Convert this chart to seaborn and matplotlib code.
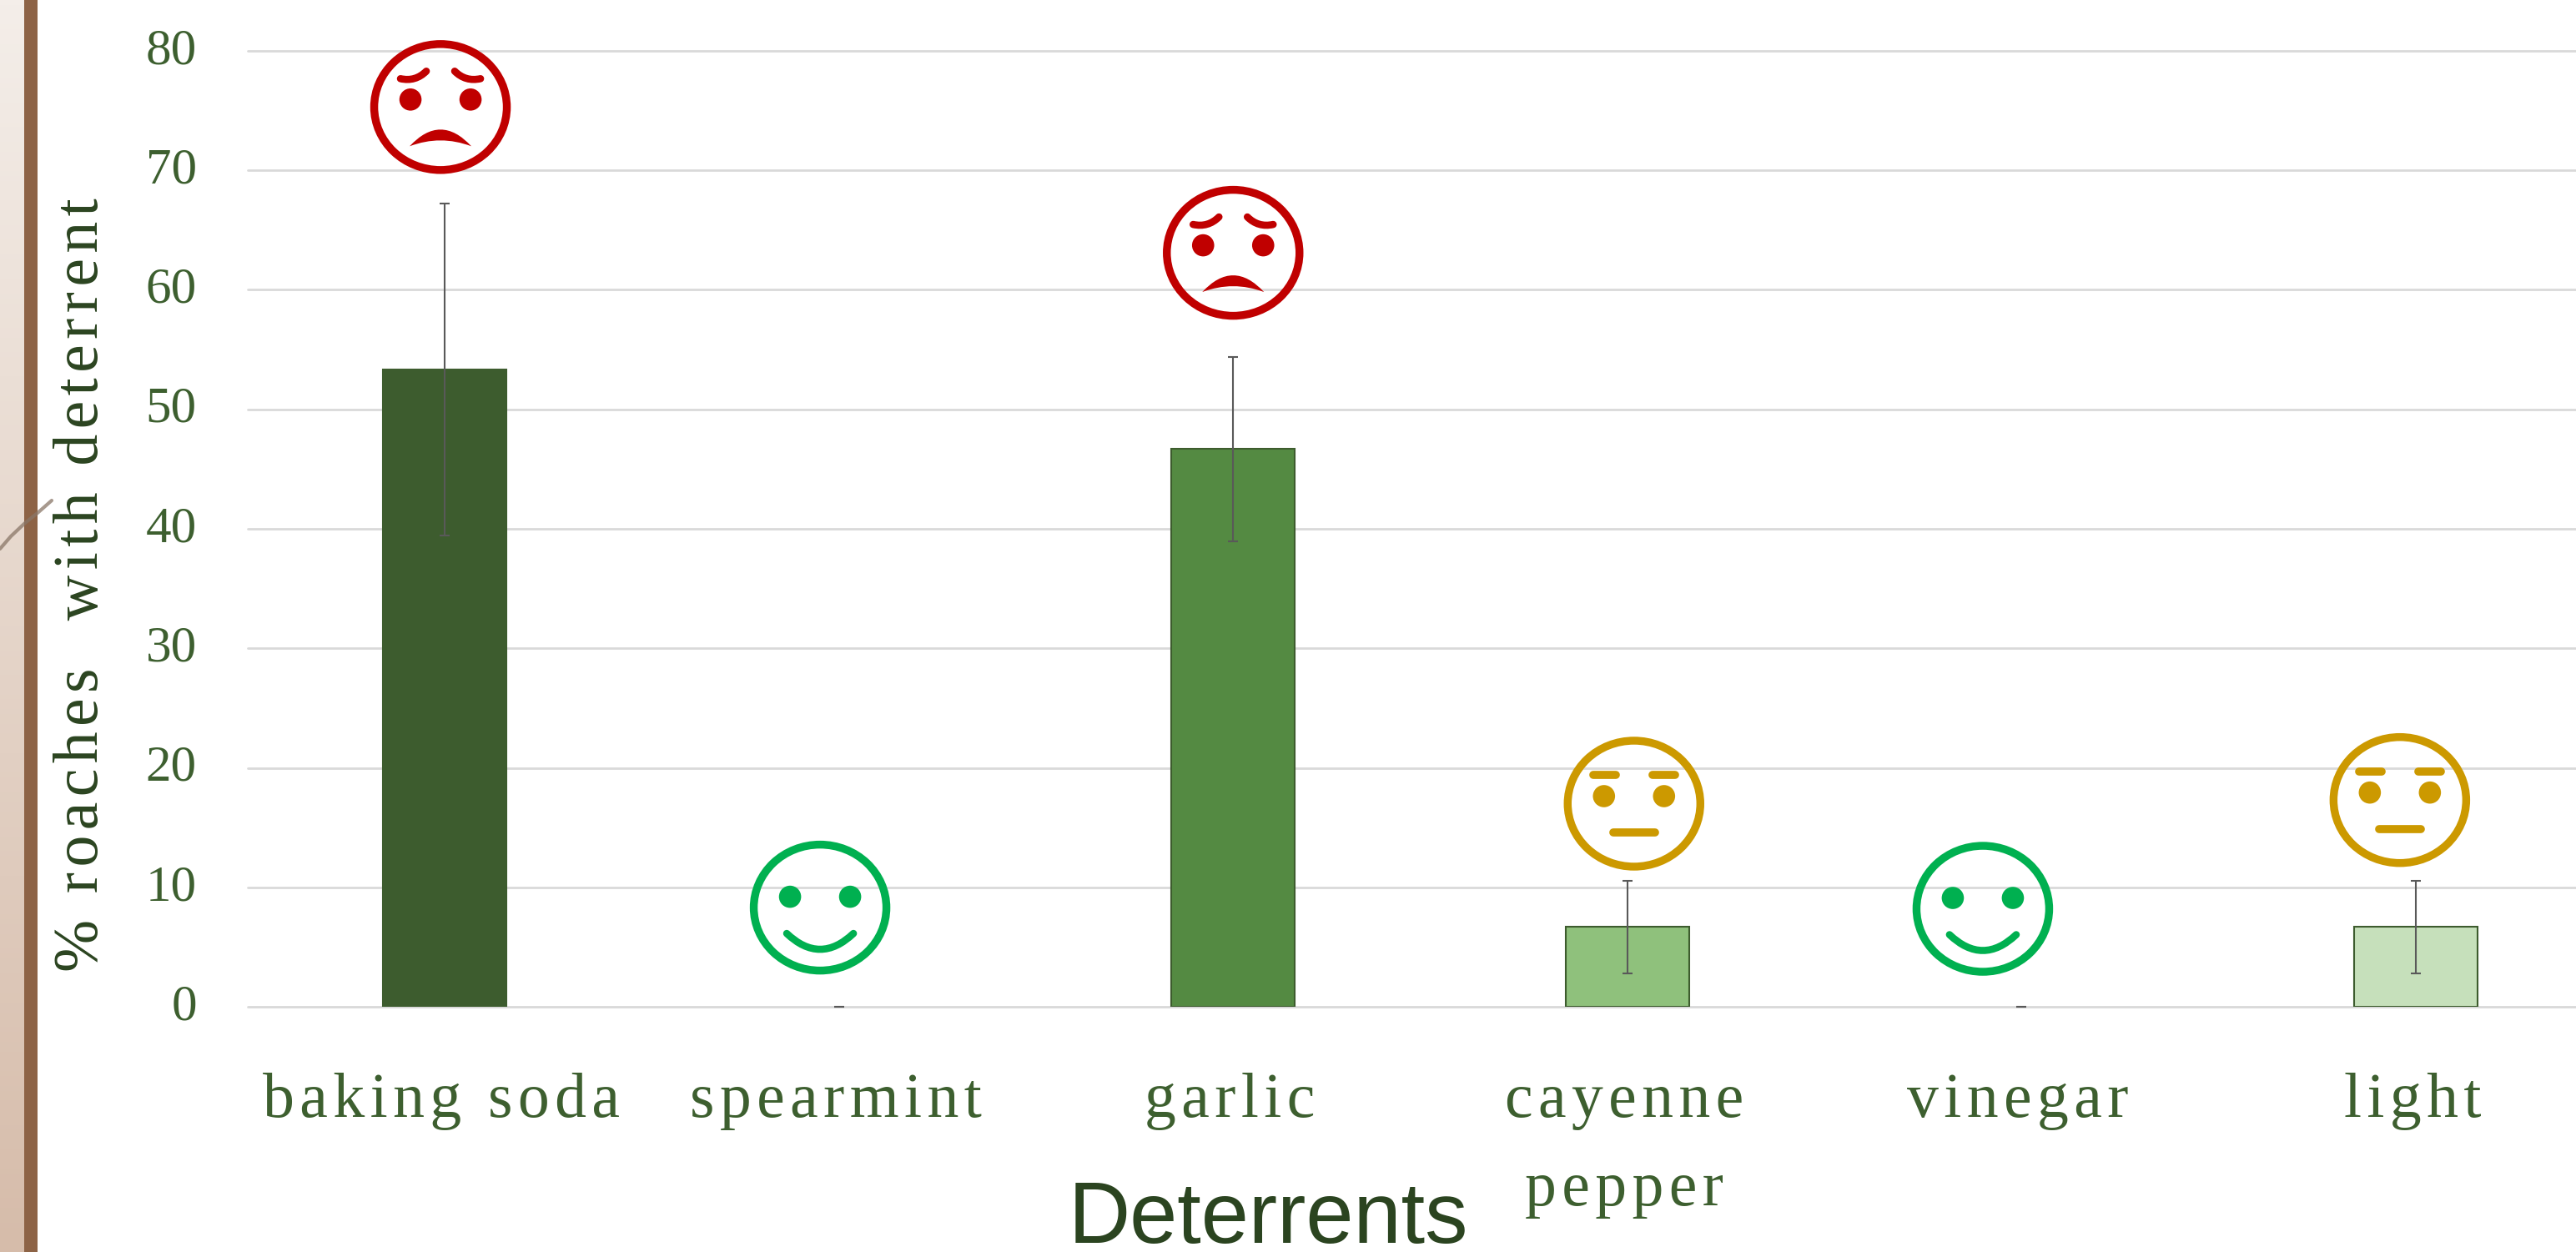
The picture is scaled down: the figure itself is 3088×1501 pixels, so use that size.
import numpy as np
import pandas as pd
import matplotlib
matplotlib.use('Agg')
import matplotlib.pyplot as plt
from matplotlib.lines import Line2D
from matplotlib.patches import Circle, Ellipse, PathPatch
from matplotlib.path import Path
from matplotlib.transforms import Affine2D
import seaborn as sns

deterrents = ['baking soda', 'spearmint', 'garlic', 'cayenne\npepper', 'vinegar', 'light']
percent = [53.33, 0, 46.67, 6.67, 0, 6.67]
errors = [13.9, 0, 7.7, 3.85, 0, 3.85]
y_ticks = [0, 10, 20, 30, 40, 50, 60, 70, 80]
bar_colors = ['#3d5c2e', '#3d5c2e', '#548a42', '#8fc17c', '#3d5c2e', '#c6e0bb']

# faces sit at these chart positions (category, percent)
face_kinds = ['sad', 'happy', 'sad', 'flat', 'happy', 'flat']
face_x = [-0.011, 0.952, 2.0, 3.017, 3.902, 4.96]
face_y = [75.3, 8.3, 63.1, 17.0, 8.2, 17.3]
face_colors = {'sad': '#c00000', 'happy': '#00b050', 'flat': '#cc9900'}

TICK_GREEN = '#3d5f2f'
DARK_GREEN = '#2b4420'
HAIR = '\u200a'


def spaced(text, sep=HAIR):
    # the source text is letterspaced, matplotlib has no setting for that
    return '\n'.join(sep.join(line) for line in text.split('\n'))


sns.set_theme(style='white')
plt.rcParams['font.family'] = ['Liberation Serif', 'DejaVu Serif']

df = pd.DataFrame({'deterrent': deterrents, 'percent': percent})

fig = plt.figure(figsize=(30.88, 15.01), dpi=100, facecolor='white')
ax = fig.add_axes([297 / 3088, 294 / 1501, 2835 / 3088, 1146 / 1501])

sns.barplot(data=df, x='deterrent', y='percent', hue='deterrent', palette=bar_colors, saturation=1,
            width=0.3125, dodge=False, legend=False, errorbar=None, ax=ax, zorder=3)
for patch in ax.patches:
    patch.set_edgecolor('#3d5c2e')
    patch.set_linewidth(1.5 if patch.get_height() > 0 else 0)

ax.errorbar(range(len(percent)), percent, yerr=errors, fmt='none', ecolor='#595959',
            elinewidth=1.5, capsize=4.5, capthick=1.5, zorder=4, clip_on=False)

ax.set_xlim(-0.5, 5.5)
ax.set_ylim(0, 80)
ax.set_yticks(y_ticks)
ax.set_yticklabels([str(v) for v in y_ticks], color=TICK_GREEN, fontsize=44)
ax.set_xticks(range(len(deterrents)))
ax.set_xticklabels([spaced(d) for d in deterrents], color=TICK_GREEN, fontsize=54.5, linespacing=1.7)
ax.tick_params(axis='y', length=0, pad=44)
ax.tick_params(axis='x', length=0, pad=57)
for label in ax.get_yticklabels():
    label.set_transform(label.get_transform() + Affine2D().translate(0, 6))
for label in ax.get_xticklabels():
    label.set_transform(label.get_transform() + Affine2D().translate(-4, 0))
ax.set_xlabel('')
ax.set_ylabel('')
ax.yaxis.grid(True, color='#d9d9d9', linewidth=2)
ax.set_axisbelow(True)
for line in ax.get_ygridlines():
    line.set_clip_on(False)
sns.despine(ax=ax, left=True, bottom=True, top=True, right=True)

fig.text(99 / 3088, 1 - 701 / 1501, spaced('% roaches  with deterrent'), rotation=90,
         ha='center', va='center', color=DARK_GREEN, fontsize=54.5)
fig.text(1520 / 3088, 1 - 1490 / 1501, 'Deterrents', ha='center', va='baseline',
         color=DARK_GREEN, fontsize=74, family='Liberation Sans')

# left border, gradient panel then brown strip
strip = fig.add_axes([0, 0, 29 / 3088, 1])
strip.imshow(np.linspace(0, 1, 256).reshape(-1, 1), aspect='auto',
             cmap=matplotlib.colors.LinearSegmentedColormap.from_list('b', ['#f4eee9', '#d6bcaa']))
strip.axis('off')
brown = fig.add_axes([29 / 3088, 0, 16 / 3088, 1])
brown.set_facecolor('#8d6346')
brown.set_xticks([])
brown.set_yticks([])
sns.despine(ax=brown, left=True, bottom=True)

# twig crossing the border
to_px = Affine2D().scale(1, -1).translate(0, 1501)
fig.add_artist(Line2D([0, 13, 30, 45, 62], [658, 643, 627, 615, 600], color='#8a7768', lw=3,
                      alpha=0.75, transform=to_px))


def draw_face(kind, cx, cy):
    col = face_colors[kind]
    at = Affine2D().translate(cx, cy)

    def add(p):
        p.set_transform(at)
        p.set_clip_on(False)
        p.set_zorder(6)
        fig.add_artist(p)

    add(Ellipse((0, 0), 159, 151, facecolor='none', edgecolor=col, linewidth=6.8))
    eye_y = {'sad': 9, 'happy': 13, 'flat': 9}[kind]
    for sx in (-1, 1):
        add(Circle((sx * 36, eye_y), 13.3, facecolor=col, edgecolor='none'))
    stroke = dict(facecolor='none', edgecolor=col, linewidth=6.2, capstyle='round')
    if kind == 'sad':
        for sx in (-1, 1):
            brow = Path([(sx * 48, 34), (sx * 30, 30), (sx * 17, 43)], [Path.MOVETO, Path.CURVE3, Path.CURVE3])
            add(PathPatch(brow, **stroke))
        mouth = Path([(-37, -47), (0, -7), (37, -47), (0, -33), (-37, -47)],
                     [Path.MOVETO, Path.CURVE3, Path.CURVE3, Path.CURVE3, Path.CURVE3])
        add(PathPatch(mouth, facecolor=col, edgecolor='none'))
    elif kind == 'happy':
        smile = Path([(-40, -31), (0, -69), (40, -31)], [Path.MOVETO, Path.CURVE3, Path.CURVE3])
        add(PathPatch(smile, **stroke))
    else:
        stroke['linewidth'] = 7
        for sx in (-1, 1):
            add(PathPatch(Path([(sx * 49, 34), (sx * 22, 34)]), **stroke))
        add(PathPatch(Path([(-25, -35), (25, -35)]), **stroke))


for kind, fx, fy in zip(face_kinds, face_x, face_y):
    cx, cy = ax.transData.transform((fx, fy))
    draw_face(kind, cx, cy)

fig.savefig('out.png', dpi=100)
